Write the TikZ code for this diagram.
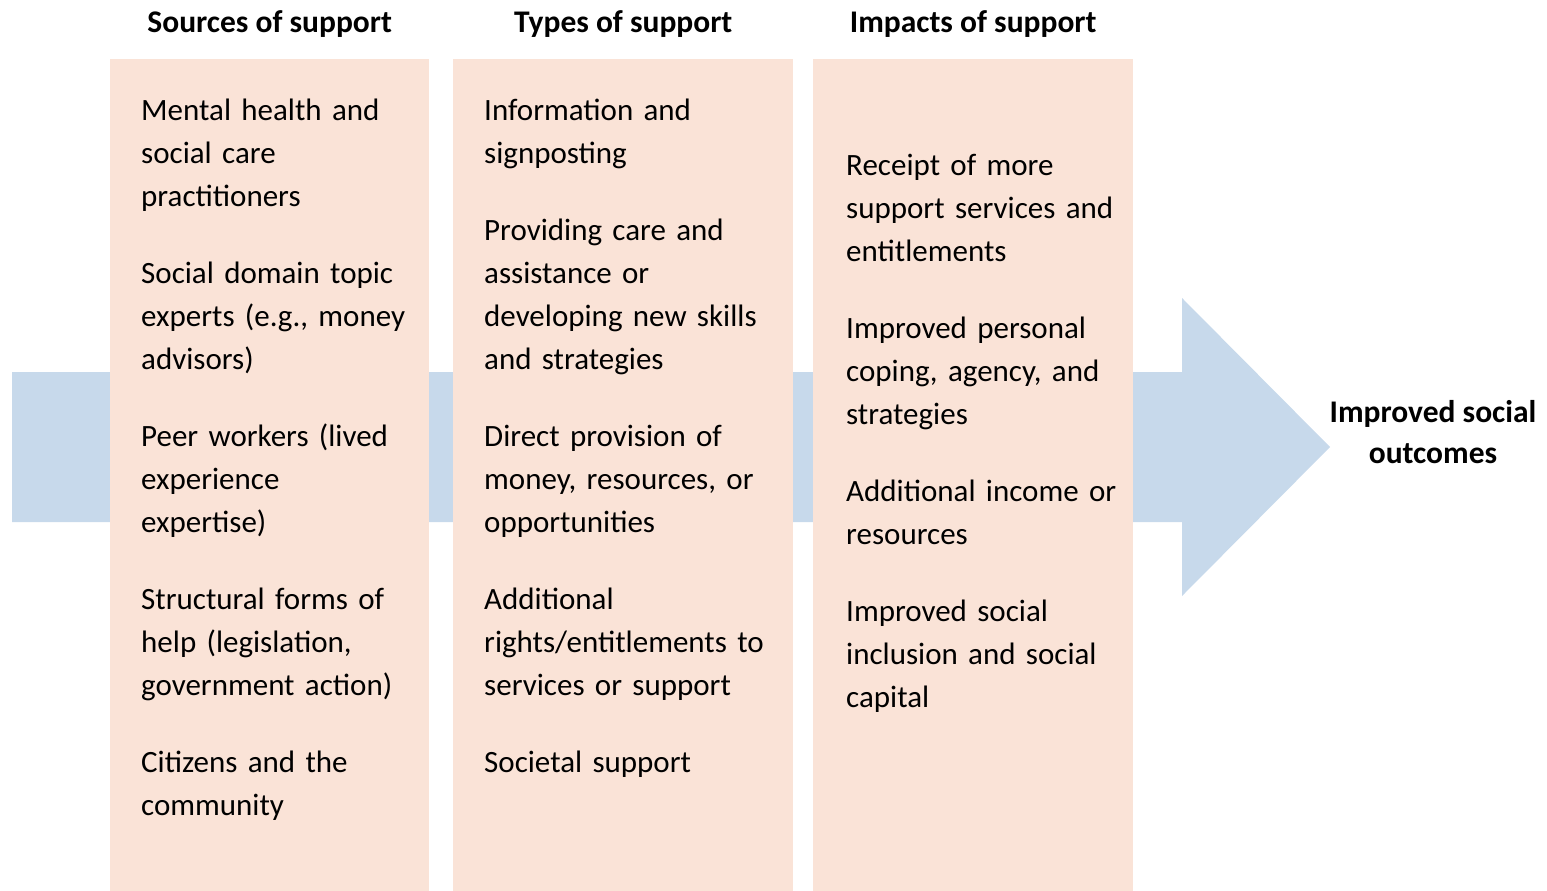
\documentclass[tikz,border=0pt]{standalone}
\usepackage{fontspec}
\setmainfont{Carlito}
\usepackage{tikz}
\usetikzlibrary{positioning}
\definecolor{peach}{HTML}{FAE3D7}
\definecolor{paleblue}{HTML}{C7D9EB}
\tikzstyle{column}=[rectangle,fill=peach,inner sep=0pt,anchor=north west,minimum height=832pt]
\tikzstyle{item}=[inner sep=0pt,text width=330pt,align=left,anchor=north west,font=\fontsize{31}{43}\selectfont,execute at begin node=\strut,execute at end node=\strut]
\tikzstyle{header}=[inner sep=0pt,font=\bfseries\fontsize{31.5}{36}\selectfont]
\tikzstyle{outcome}=[inner sep=0pt,align=center,font=\bfseries\fontsize{31.5}{41}\selectfont,execute at begin node=\strut,execute at end node=\strut]

\begin{document}
\begin{tikzpicture}[x=1pt,y=-1pt]
    \useasboundingbox (0,0) rectangle (1547,891);
    % The broad arrow behind the columns
    \fill[paleblue] (12,372) -- (1182,372) -- (1182,298) -- (1330,447) -- (1182,596) -- (1182,522) -- (12,522) -- cycle;
    % Then the three columns
    \foreach \pos/\name/\colw in {{(110,59)/Sources/319}, {(453,59)/Types/340}, {(813,59)/Impacts/320}}
        \node[column,minimum width=\colw pt] (\name) at \pos {};
    % Column headers
    \node[header, above=26pt of Sources.north, anchor=base] (H_S) {Sources of support};
    \node[header, above=26pt of Types.north, anchor=base] (H_T) {Types of support};
    \node[header, above=26pt of Impacts.north, anchor=base] (H_I) {Impacts of support};
    % Sources
    \node[item] (S_1) at (141,90) {Mental health and\\social care\\practitioners};
    \foreach \prev/\name/\txt in {S_1/S_2/{Social domain topic\\experts (e.g., money\\advisors)},
            S_2/S_3/{Peer workers (lived\\experience\\expertise)},
            S_3/S_4/{Structural forms of\\help (legislation,\\government action)},
            S_4/S_5/{Citizens and the\\community}}
        \node[item, below=33.6pt of \prev.south west, anchor=north west] (\name) {\txt};
    % Types
    \node[item] (T_1) at (484,90) {Information and\\signposting};
    \foreach \prev/\name/\txt in {T_1/T_2/{Providing care and\\assistance or\\developing new skills\\and strategies},
            T_2/T_3/{Direct provision of\\money, resources, or\\opportunities},
            T_3/T_4/{Additional\\rights/entitlements to\\services or support},
            T_4/T_5/{Societal support}}
        \node[item, below=33.6pt of \prev.south west, anchor=north west] (\name) {\txt};
    % Impacts
    \node[item] (I_1) at (846,145) {Receipt of more\\support services and\\entitlements};
    \foreach \prev/\name/\txt in {I_1/I_2/{Improved personal\\coping, agency, and\\strategies},
            I_2/I_3/{Additional income or\\resources},
            I_3/I_4/{Improved social\\inclusion and social\\capital}}
        \node[item, below=33.6pt of \prev.south west, anchor=north west] (\name) {\txt};
    % Outcome at the arrow tip
    \node[outcome] (Out) at (1433,438) {Improved social\\outcomes};
\end{tikzpicture}
\end{document}
